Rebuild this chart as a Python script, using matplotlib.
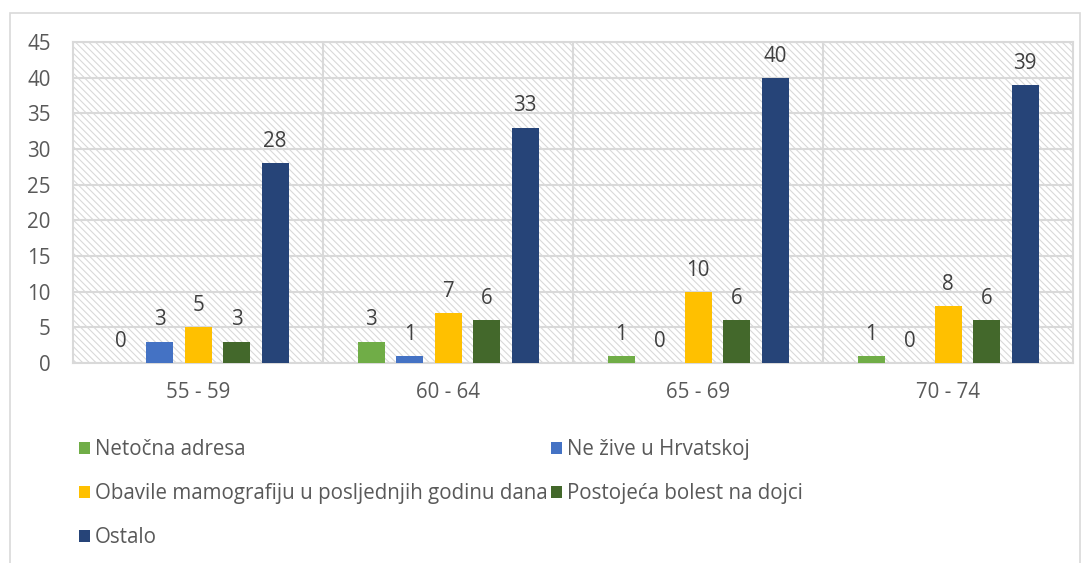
import numpy as np
import matplotlib.pyplot as plt
from matplotlib.patches import Rectangle

plt.rcParams['font.family'] = ['Open Sans', 'DejaVu Sans']
plt.rcParams['hatch.color'] = '#d9d9d9'
plt.rcParams['hatch.linewidth'] = 0.8

# podaci
kategorije = ['55 - 59', '60 - 64', '65 - 69', '70 - 74']
serije = ['Netočna adresa', 'Ne žive u Hrvatskoj',
          'Obavile mamografiju u posljednjih godinu dana',
          'Postojeća bolest na dojci', 'Ostalo']
netocna = [0, 3, 1, 1]
ne_zive = [3, 1, 0, 0]
obavile = [5, 7, 10, 8]
postojeca = [3, 6, 6, 6]
ostalo = [28, 33, 40, 39]
vrijednosti = [netocna, ne_zive, obavile, postojeca, ostalo]
boje = ['#70ad47', '#4472c4', '#ffc000', '#43682b', '#264478']

txt = '#595959'
grid = '#d9d9d9'
fs = 14.8

fig = plt.figure(figsize=(10.88, 5.63), dpi=100)
fig.patches.append(Rectangle((10 / 1088, -0.1), 1070 / 1088, 1.1 - 13 / 563,
                             transform=fig.transFigure, fill=False,
                             edgecolor=grid, linewidth=1.2))
ax = fig.add_axes([73 / 1088, 1 - 363 / 563, 1000 / 1088, 321 / 563])

# pozadina s crtkanjem
ax.add_patch(Rectangle((0, 0), 1, 1, transform=ax.transAxes, facecolor='white',
                       edgecolor=grid, linewidth=0, hatch='\\\\\\\\\\', zorder=0))

x = np.arange(len(kategorije))
razmak = 0.154
sirina = 0.108
handles = []
for i, (v, b) in enumerate(zip(vrijednosti, boje)):
    pos = x + (i - 2) * razmak
    bars = ax.bar(pos, v, sirina, color=b, zorder=3, label=serije[i])
    handles.append(bars)
    for p, val in zip(pos, v):
        ax.annotate(str(val), (p, val), xytext=(0, 8), textcoords='offset points',
                    ha='center', va='bottom', fontsize=fs, color='#404040')

ax.set_xlim(-0.5, len(kategorije) - 0.5)
ax.set_ylim(0, 45)
ax.set_yticks(range(0, 46, 5))
ax.set_xticks(x)
ax.set_xticklabels(kategorije)
ax.tick_params(length=0, labelsize=fs, labelcolor=txt)
ax.tick_params(axis='y', pad=16)
ax.tick_params(axis='x', pad=14)
ax.yaxis.grid(True, color=grid, linewidth=1.5, zorder=1)
for xv in np.arange(0.5, len(kategorije) - 1, 1):
    ax.axvline(xv, color=grid, linewidth=1.5, zorder=1)
ax.set_axisbelow(True)
for s in ax.spines.values():
    s.set_color(grid)
    s.set_linewidth(1.5)

# legenda: redovi kao u Excelu
red = [0, 2, 4, 1, 3]
leg = fig.legend([handles[k] for k in red], [serije[k] for k in red],
                 loc='upper left', bbox_to_anchor=(71 / 1088, 1 - 431 / 563),
                 ncol=2, frameon=False, fontsize=fs, labelcolor=txt,
                 handlelength=0.5, handleheight=0.5, handletextpad=0.25,
                 columnspacing=0.2, labelspacing=1.12, borderaxespad=0)

fig.savefig('out.png', dpi=100)
